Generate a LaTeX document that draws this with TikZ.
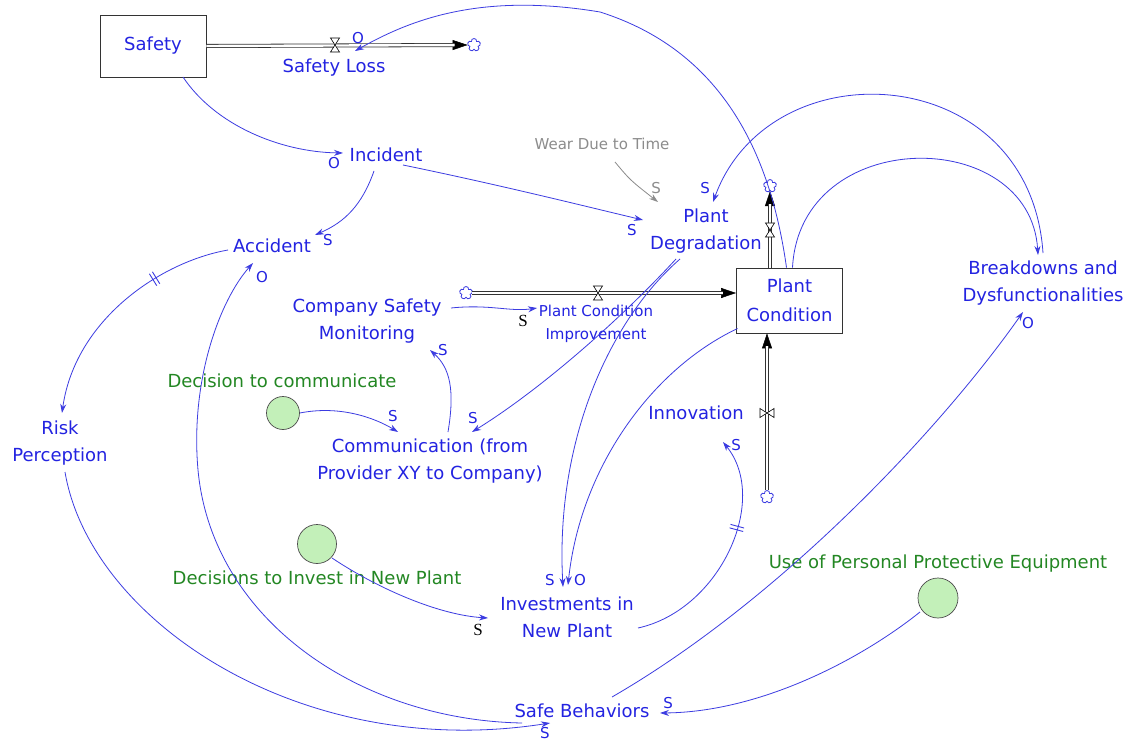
\documentclass[tikz,border=0pt]{standalone}
\usepackage{fontspec}
\setmainfont{DejaVu Sans}
\newfontfamily\serifS{Liberation Serif}
\usetikzlibrary{arrows.meta,shapes.symbols,decorations.markings,calc}
\definecolor{txtblue}{RGB}{35,35,225}
\definecolor{lnblue}{RGB}{60,60,225}
\definecolor{txtgreen}{RGB}{35,135,35}
\definecolor{auxfill}{RGB}{195,240,185}
\definecolor{weargrey}{RGB}{140,140,140}
\tikzset{
 var/.style={text=txtblue, font=\fontsize{18}{27}\selectfont, align=center, inner sep=1pt},
 smallvar/.style={text=txtblue, font=\fontsize{15}{23}\selectfont, align=center, inner sep=1pt},
 stock/.style={draw=black!80, line width=0.8pt, fill=white, minimum width=106pt, minimum height=62pt, text=txtblue, font=\fontsize{18}{29}\selectfont, align=center},
 aux/.style={circle, draw=black!70, line width=0.7pt, fill=auxfill, inner sep=0pt},
 auxlabel/.style={text=txtgreen, font=\fontsize{18}{27}\selectfont, inner sep=1pt},
 cloudsrc/.style={cloud, cloud puffs=5, cloud puff arc=200, aspect=1, draw=lnblue, line width=0.8pt, minimum width=13pt, minimum height=13pt, inner sep=0pt},
 link/.style={draw=lnblue, line width=0.8pt, -{Stealth[length=9pt,width=6pt]}},
 pol/.style={text=txtblue, font=\fontsize{15}{15}\selectfont, inner sep=0pt},
 polblack/.style={text=black, font=\serifS\fontsize{17}{17}\selectfont, inner sep=0pt},
 pipeline/.style={draw=black!80, line width=0.8pt, double=white, double distance=2.4pt},
 pipetip/.style={draw=black, line width=0.5pt, -{Triangle[length=15pt,width=10pt]}},
 delay/.style={postaction={decorate, decoration={markings, mark=at position #1 with {\draw[lnblue, line width=0.9pt, -] (-1.8pt,-7pt) -- (-1.8pt,7pt) (1.8pt,-7pt) -- (1.8pt,7pt);}}}},
 valveh/.pic={\draw[black, line width=0.6pt, fill=white] (-4.5,-7) -- (4.5,-7) -- (-4.5,7) -- (4.5,7) -- cycle;},
}
\begin{document}
\begin{tikzpicture}[x=1pt,y=-1pt]
\useasboundingbox[fill=white] (0,0) rectangle (1131,743);

% ---- nodes
\node[stock] (safety) at (153,46) {Safety};
\node[cloudsrc] (c1) at (474,45) {};
\coordinate (slv) at (335,45);
\node[var] (sloss) at (334,68) {Safety Loss};
\node[var] (incident) at (386,155) {Incident};
\node[var] (accident) at (272,246) {Accident};
\node[var] (riskp) at (60,443) {Risk\\Perception};
\node[smallvar, text=weargrey] (wear) at (602,144) {Wear Due to Time};
\node[var] (pdeg) at (706,231) {Plant\\Degradation};
\node[stock, minimum height=65pt] (pc) at (789.5,300.5) {Plant\\Condition};
\node[cloudsrc] (c2) at (770,186) {};
\coordinate (pdv) at (770,230);
\node[var] (brk) at (1043,283) {Breakdowns and\\Dysfunctionalities};
\node[var] (csm) at (367,321) {Company Safety\\Monitoring};
\node[cloudsrc] (c3) at (466,293) {};
\coordinate (pcv) at (598,293);
\node[smallvar] (pci) at (596,324) {Plant Condition\\Improvement};
\node[aux, minimum size=33pt] (dtc) at (283,413) {};
\node[auxlabel] (dtcl) at (282,381) {Decision to communicate};
\node[var] (comm) at (430,461) {Communication (from\\Provider XY to Company)};
\node[var] (innov) at (696,413) {Innovation};
\node[cloudsrc] (c4) at (767,497) {};
\coordinate (invv) at (767,413);
\node[aux, minimum size=39pt] (dip) at (317,544) {};
\node[auxlabel] (dipl) at (317,578) {Decisions to Invest in New Plant};
\node[var] (inv) at (567,617) {Investments in\\New Plant};
\node[aux, minimum size=40pt] (ppe) at (938,598) {};
\node[auxlabel] (ppel) at (938,564) {Use of Personal Protective Equipment};
\node[var] (safeb) at (582,711) {Safe Behaviors};

% ---- pipes (flows)
\draw[pipetip] (safety.east) -- (c1.west);
\draw[pipeline, shorten >=13pt] (safety.east) -- (c1.west);
\pic at (slv) {valveh};

\draw[pipetip] (c2 |- pc.north) -- (c2.south);
\draw[pipeline, shorten >=13pt] (c2 |- pc.north) -- (c2.south);
\pic at (pdv) {valveh};

\draw[pipetip] (c3.east) -- (c3.east -| pc.west);
\draw[pipeline, shorten >=13pt] (c3.east) -- (c3.east -| pc.west);
\pic at (pcv) {valveh};

\draw[pipetip] (c4.north) -- (c4 |- pc.south);
\draw[pipeline, shorten >=13pt] (c4.north) -- (c4 |- pc.south);
\pic[rotate=90] at (invv) {valveh};

% ---- links
\draw[link] ($(pc.north)+(-3,0)$) .. controls (770,150) and (720,50) .. (600,12) .. controls (480,-8) and (410,20) .. ($(slv)+(20,6)$);
\node[pol] (pB) at (358,38) {O};

\draw[link] ($(safety)+(30,31)$) .. controls (215,125) and (280,152) .. ($(incident)+(-43,-2)$);
\node[pol] (pC) at (334,163) {O};

\draw[link] ($(incident)+(-12,16)$) .. controls (362,205) and (345,222) .. ($(accident)+(43,-11)$);
\node[pol] (pD) at (328,240) {S};

\draw[link] ($(incident)+(17,10)$) .. controls (500,185) and (580,205) .. ($(pdeg)+(-63,-11)$);
\node[pol] (pE) at (632,230) {S};

\draw[link, draw=weargrey] ($(wear)+(13,18)$) .. controls (630,180) .. ($(pdeg)+(-48,-29)$);
\node[pol, text=weargrey] (pF) at (656,188) {S};

\draw[link] ($(brk)+(0,-30)$) .. controls (1030,60) and (770,45) .. ($(pdeg)+(7,-29)$);
\node[pol] (pG) at (705,188) {S};

\draw[link] ($(pc.north)+(3,0)$) .. controls (800,125) and (1030,125) .. ($(brk)+(-5,-28)$);

\draw[link] ($(csm)+(84,-13)$) .. controls (490,304) and (510,312) .. ($(pci)+(-59,-16)$);
\node[polblack] (pL) at (523,321) {S};

\draw[link] ($(comm)+(18,-29)$) .. controls (455,390) and (450,368) .. ($(csm)+(63,29)$);
\node[pol] (pM) at (443,350) {S};

\draw[link] (dtc.east) .. controls (340,405) and (375,418) .. ($(comm)+(-32,-29)$);
\node[pol] (pN) at (393,416) {S};

\draw[link] ($(pdeg)+(-30,28)$) .. controls (620,320) and (540,390) .. ($(comm)+(42,-29)$);
\node[pol] (pO) at (473,418) {S};

\draw[link] ($(pdeg)+(-26,28)$) .. controls (610,320) and (555,440) .. ($(inv)+(-4,-30)$);
\node[pol] (pP) at (550,580) {S};

\draw[link] ($(pc)+(-52,28)$) .. controls (650,370) and (580,470) .. ($(inv)+(1,-32)$);
\node[pol] (pQ) at (580,580) {O};

\draw[link, delay=0.62] ($(inv)+(71,11)$) .. controls (720,610) and (770,500) .. ($(innov)+(27,29)$);
\node[pol] (pR) at (736,445) {S};

\draw[link] ($(dip)+(15,14)$) .. controls (380,590) and (440,615) .. ($(inv)+(-79,1)$);
\node[polblack] (pS) at (478,630) {S};

\draw[link, delay=0.32] ($(accident)+(-44,4)$) .. controls (160,262) and (75,320) .. ($(riskp)+(2,-30)$);

\draw[link] ($(safeb)+(-60,12)$) .. controls (360,720) and (212,620) .. (198,470) .. controls (190,380) and (220,300) .. ($(accident)+(-19,17)$);
\node[pol] (pU) at (262,277) {O};

\draw[link] ($(riskp)+(5,29)$) .. controls (90,620) and (300,762) .. ($(safeb)+(-32,12)$);
\node[pol] (pV) at (545,733) {S};

\draw[link] ($(safeb)+(30,-14)$) .. controls (780,600) and (940,430) .. ($(brk)+(-20,29)$);
\node[pol] (pW) at (1028,323) {O};

\draw[link] ($(ppe)+(-18,14)$) .. controls (860,660) and (760,712) .. ($(safeb)+(78,2)$);
\node[pol] (pX) at (668,703) {S};
\end{tikzpicture}
\end{document}
